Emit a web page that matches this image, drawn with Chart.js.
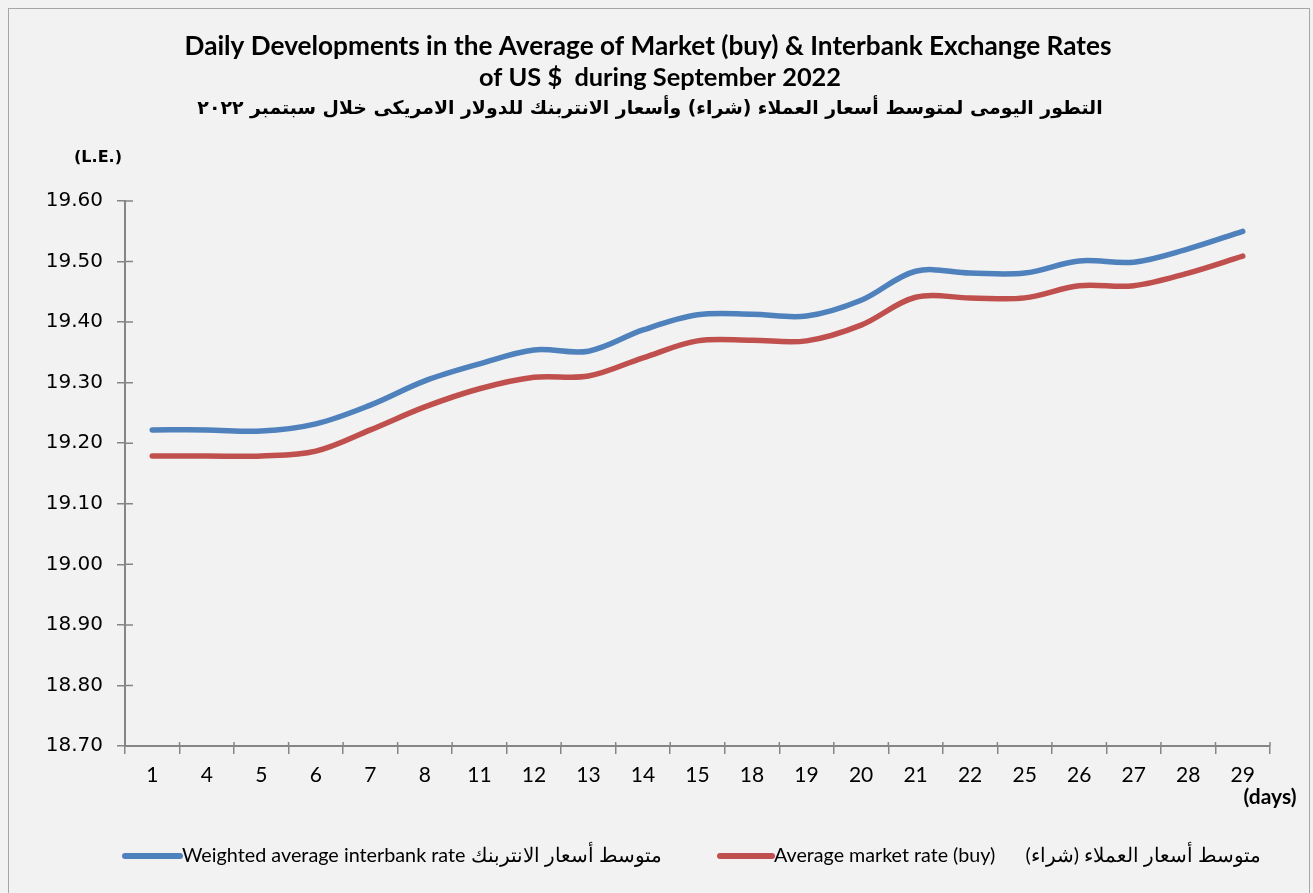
<!DOCTYPE html>
<html>
<head>
<meta charset="utf-8">
<script src="https://cdn.jsdelivr.net/npm/chart.js@4.4.0/dist/chart.umd.min.js"></script>
<style>
  html, body { margin: 0; padding: 0; background: #f2f2f2; }
  #frame { position: absolute; left: 8px; top: 8px; width: 1302px; height: 900px; border: 1px solid #a6a6a6; box-sizing: border-box; }
  #wrap { position: absolute; left: 0; top: 0; width: 1313px; height: 893px; }
</style>
</head>
<body>
<div id="frame"></div>
<div id="wrap"><canvas id="rateChart" width="1313" height="893"></canvas></div>
<script>
// days of September 2022 with quotes
const days = ['1', '4', '5', '6', '7', '8', '11', '12', '13', '14', '15', '18', '19', '20', '21', '22', '25', '26', '27', '28', '29'];

// weighted average interbank rate (L.E. per US $)
const interbankRate = [19.222, 19.222, 19.220, 19.232, 19.263, 19.303, 19.331, 19.354, 19.352, 19.387, 19.412,
  19.413, 19.410, 19.436, 19.484, 19.481, 19.481, 19.501, 19.499, 19.521, 19.550];

// average market rate (buy)
const marketRate = [19.179, 19.179, 19.179, 19.187, 19.222, 19.260, 19.290, 19.309, 19.311, 19.341, 19.369,
  19.370, 19.369, 19.395, 19.441, 19.440, 19.440, 19.460, 19.460, 19.481, 19.509];

const yMin = 18.70;
const yMax = 19.60;
const yStep = 0.10;

const titleEn = [
  'Daily Developments in the Average of Market (buy) & Interbank Exchange Rates',
  'of US $  during September 2022',
];
const titleAr = 'التطور اليومى لمتوسط أسعار العملاء (شراء) وأسعار الانتربنك للدولار الامريكى خلال سبتمبر ٢٠٢٢';
const yUnit = '(L.E.)';
const xUnit = '(days)';
const seriesLabels = [
  'Weighted average interbank rate متوسط أسعار الانتربنك',
  'Average market rate (buy)      متوسط أسعار العملاء (شراء)',
];

const colors = {
  blue: '#4f81bd',
  red: '#c0504d',
  axis: '#868686',
  text: '#000000',
};

const sans = 'Lato, "Open Sans", sans-serif';
const arabic = '"DejaVu Sans", "Noto Sans", sans-serif';
const verdana = '"DejaVu Sans", Verdana, sans-serif';

// draw text scaled so it spans the given width
function fitText(ctx, text, x, y, width, weight, family, align) {
  ctx.font = weight + ' 20px ' + family;
  const w = ctx.measureText(text).width;
  const size = 20 * width / w;
  ctx.font = weight + ' ' + size.toFixed(2) + 'px ' + family;
  ctx.textAlign = align || 'center';
  ctx.fillText(text, x, y);
}

// Excel-style tick marks cross the axis: add the inner half
const crossTicks = {
  id: 'crossTicks',
  afterDraw(chart) {
    const { ctx, chartArea: a } = chart;
    const xs = chart.scales.x;
    const ys = chart.scales.y;
    ctx.save();
    ctx.strokeStyle = colors.axis;
    ctx.lineWidth = 1.5;
    ctx.beginPath();
    ys.ticks.forEach((t, i) => {
      const py = ys.getPixelForTick(i);
      ctx.moveTo(a.left, py);
      ctx.lineTo(a.left + 8, py);
    });
    const n = xs.ticks.length;
    const w = (a.right - a.left) / n;
    for (let i = 0; i <= n; i++) {
      const px = a.left + i * w;
      ctx.moveTo(px, a.bottom);
      ctx.lineTo(px, a.bottom - 4);
    }
    ctx.stroke();
    ctx.restore();
  },
};

const textPlugin = {
  id: 'chartTexts',
  afterDraw(chart) {
    const ctx = chart.ctx;
    ctx.save();
    ctx.fillStyle = colors.text;
    ctx.textBaseline = 'middle';
    fitText(ctx, titleEn[0], 648, 47, 927, 'bold', sans);
    fitText(ctx, titleEn[1], 660, 78, 362, 'bold', sans);
    fitText(ctx, titleAr, 650, 109, 906, 'bold', arabic);

    ctx.font = 'bold 16px ' + verdana;
    ctx.textAlign = 'center';
    ctx.fillText(yUnit, 98, 158);
    ctx.font = 'bold 21px ' + sans;
    ctx.fillText(xUnit, 1270, 797);

    // legend
    const items = [
      { x0: 125, x1: 180, tx: 182, tw: 478 },
      { x0: 720, x1: 772, tx: 774, tw: 484 },
    ];
    chart.data.datasets.forEach((ds, i) => {
      const it = items[i];
      ctx.strokeStyle = ds.borderColor;
      ctx.lineWidth = 6;
      ctx.lineCap = 'round';
      ctx.beginPath();
      ctx.moveTo(it.x0, 856);
      ctx.lineTo(it.x1, 856);
      ctx.stroke();
      ctx.fillStyle = colors.text;
      fitText(ctx, ds.label, it.tx, 856, it.tw, 'normal', sans, 'left');
    });
    ctx.restore();
  },
};

new Chart(document.getElementById('rateChart'), {
  type: 'line',
  data: {
    labels: days,
    datasets: [
      {
        label: seriesLabels[0],
        data: interbankRate,
        borderColor: colors.blue,
        backgroundColor: colors.blue,
        borderWidth: 5.5,
        borderCapStyle: 'round',
        tension: 0.35,
        pointRadius: 0,
      },
      {
        label: seriesLabels[1],
        data: marketRate,
        borderColor: colors.red,
        backgroundColor: colors.red,
        borderWidth: 5.5,
        borderCapStyle: 'round',
        tension: 0.35,
        pointRadius: 0,
      },
    ],
  },
  options: {
    responsive: false,
    animation: false,
    layout: { padding: { left: 0, right: 43, top: 201, bottom: 97 } },
    plugins: {
      legend: { display: false },
      title: { display: false },
      tooltip: { enabled: false },
    },
    scales: {
      x: {
        offset: true,
        grid: { offset: true, drawOnChartArea: false, color: colors.axis, tickLength: 8, lineWidth: 1.5 },
        border: { color: colors.axis, width: 2 },
        ticks: { color: colors.text, padding: 9, font: { family: sans, size: 21 }, maxRotation: 0, autoSkip: false },
        afterFit(scale) { scale.height = 50; },
      },
      y: {
        min: yMin,
        max: yMax,
        grid: { drawOnChartArea: false, color: colors.axis, tickLength: 8, lineWidth: 1.5 },
        border: { color: colors.axis, width: 2 },
        ticks: {
          stepSize: yStep,
          color: colors.text,
          padding: 14,
          font: { family: verdana, size: 20 },
          callback: (v) => Number(v).toFixed(2),
        },
        afterFit(scale) { scale.width = 125; },
      },
    },
  },
  plugins: [crossTicks, textPlugin],
});
</script>
</body>
</html>
